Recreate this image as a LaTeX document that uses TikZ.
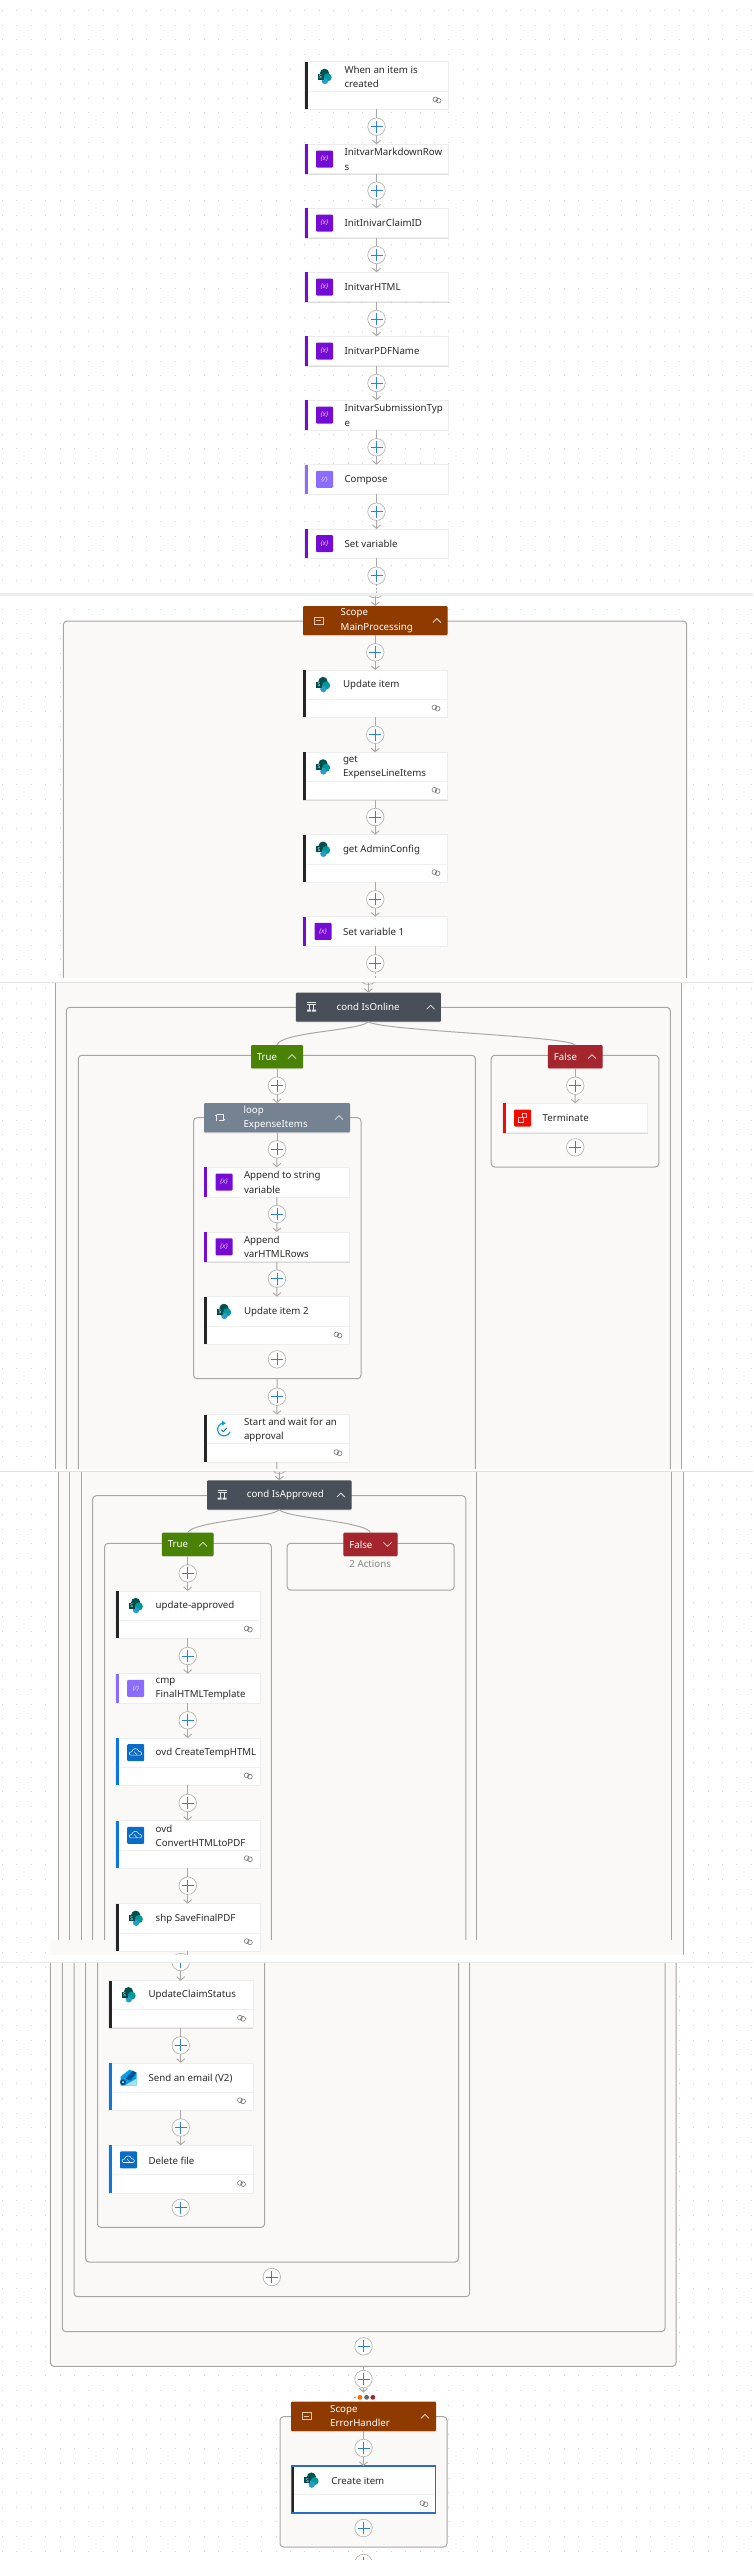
\documentclass[tikz,border=0pt]{standalone}
\usepackage{fontspec}
\setmainfont{Noto Sans}
\usetikzlibrary{arrows.meta,shadows}
\definecolor{txt}{HTML}{2B2A29}
\definecolor{wallc}{HTML}{A8A6A4}
\definecolor{canvasc}{HTML}{FAF9F8}
\definecolor{connc}{HTML}{ABA9A7}
\definecolor{plusb}{HTML}{2D7FF0}
\definecolor{varc}{HTML}{770BD6}
\definecolor{compc}{HTML}{8C6CFF}
\definecolor{darkbar}{HTML}{252525}
\definecolor{bluebar}{HTML}{0A78DC}
\definecolor{redbar}{HTML}{F00C00}
\definecolor{scopec}{HTML}{8F3B00}
\definecolor{condc}{HTML}{484F58}
\definecolor{loopc}{HTML}{748291}
\definecolor{truec}{HTML}{498205}
\definecolor{falsec}{HTML}{A4262C}
\definecolor{selc}{HTML}{2B6CC4}
\tikzset{
  cardbox/.style={rectangle,draw=black!7,line width=.5pt,fill=white,inner sep=0pt,outer sep=0pt,
    drop shadow={opacity=.25,shadow xshift=.3pt,shadow yshift=-1.1pt}},
  headbox/.style={rectangle,rounded corners=1pt,inner sep=0pt,outer sep=0pt,
    drop shadow={opacity=.22,shadow xshift=0pt,shadow yshift=-1pt}},
  cardtext/.style={anchor=west,align=left,inner sep=0pt,text=txt,font=\fontsize{9.7}{14.3}\selectfont},
  headtext/.style={anchor=west,align=left,inner sep=0pt,text=white,font=\fontsize{9.7}{14.3}\selectfont},
  plusn/.style={circle,draw=connc!85,line width=.7pt,fill=white,minimum size=17.5pt,inner sep=0pt,outer sep=0pt,
    path picture={\draw[plusb,line width=1pt]
      ([xshift=-6pt]path picture bounding box.center)--([xshift=6pt]path picture bounding box.center)
      ([yshift=-6pt]path picture bounding box.center)--([yshift=6pt]path picture bounding box.center);}},
  conn/.style={draw=connc,line width=1pt},
  arrowc/.style={draw=connc,line width=1pt,-{Straight Barb[length=3.5pt,width=8pt,line width=.9pt]}},
  wall/.style={draw=wallc,line width=1pt,rounded corners=3.5pt},
  wallbox/.style={rectangle,draw=wallc,line width=1pt,rounded corners=3.5pt,inner sep=0pt,outer sep=0pt},
  divline/.style={draw=black!6,line width=.6pt},
  icontext/.style={inner sep=0pt,text=white},
}
% icons
\newcommand{\iconsp}[3]{\begin{scope}[shift={({#1},{#2})}]
  \fill[black!60!teal!85!cyan] (0,-3.2) circle (4.6);
  \fill[teal!80!cyan] (3.2,0.8) circle (4);
  \fill[cyan!60!teal] (0.4,4.4) circle (3.2);
  \fill[black!40!teal] (-7,-3) rectangle (-1,3);
  \node[icontext,font=\fontsize{5}{5}\selectfont] (#3) at (-4,0) {S};
\end{scope}}
\newcommand{\iconvar}[3]{\begin{scope}[shift={({#1},{#2})}]
  \fill[varc,rounded corners=1pt] (-8.5,-8.5) rectangle (8.5,8.5);
  \node[icontext,text=white!85!varc,font=\fontsize{6.5}{6.5}\itshape] (#3) at (0,0) {\{x\}};
\end{scope}}
\newcommand{\iconcomp}[3]{\begin{scope}[shift={({#1},{#2})}]
  \fill[compc,rounded corners=1pt] (-8.5,-8.5) rectangle (8.5,8.5);
  \node[icontext,text=white!80!compc,font=\fontsize{6}{6}\itshape] (#3) at (0,0) {\{/\}};
\end{scope}}
\newcommand{\iconovd}[3]{\begin{scope}[shift={({#1},{#2})}]
  \fill[bluebar!90!black,rounded corners=1pt] (-8.5,-8.5) rectangle (8.5,8.5);
  \draw[white!85!bluebar,line width=.6pt] (-5.5,2.5) .. controls (-7,2.5) and (-7,-1) .. (-4,-1) .. controls (-3,-5) and (2,-5) .. (3,-1.5) .. controls (6.5,-1.5) and (6.5,2.5) .. (4.5,2.5) -- cycle;
  \draw[white!85!bluebar,line width=.5pt] (-1.5,-1) -- (1.5,2.5);
\end{scope}}
\newcommand{\iconterm}[3]{\begin{scope}[shift={({#1},{#2})}]
  \fill[redbar,rounded corners=1pt] (-8.5,-8.5) rectangle (8.5,8.5);
  \draw[white!80!red,line width=.6pt] (-4,-1) rectangle (1,4.5);
  \draw[white!80!red,line width=.6pt] (0,-4.5) rectangle (3.5,-0.5);
\end{scope}}
\newcommand{\iconappr}[3]{\begin{scope}[shift={({#1},{#2})}]
  \draw[bluebar!75!cyan,line width=1.1pt] (-1,-6.2) arc (-100:-340:6.5);
  \fill[bluebar!75!cyan] (-2,-8.5) -- (1.8,-6) -- (-2,-3.6) -- cycle;
  \draw[teal,line width=.9pt] (-2.6,0.6) -- (-0.6,2.4) -- (2.8,-1.4);
\end{scope}}
\newcommand{\iconmail}[3]{\begin{scope}[shift={({#1},{#2})}]
  \fill[bluebar!70!cyan] (-8,-1) -- (1,-8) -- (8,-5) -- (8,8) -- (-8,8) -- cycle;
  \fill[bluebar!70!black] (-3,1) -- (4,-7) -- (8,-5) -- (2,3) -- cycle;
  \fill[cyan!35!white] (-4,8) -- (8,8) -- (8,1) -- cycle;
  \fill[bluebar!60!black] (-5.5,4.5) circle (3);
  \fill[white] (-5.5,4.5) circle (1);
\end{scope}}
\newcommand{\iconscope}[3]{\begin{scope}[shift={({#1},{#2})}]
  \draw[white!70!scopec,line width=.7pt] (-4.5,-3.5) rectangle (4.5,3.5);
  \draw[white!70!scopec,line width=.7pt] (-2.5,0) -- (2.5,0);
\end{scope}}
\newcommand{\iconcond}[3]{\begin{scope}[shift={({#1},{#2})}]
  \draw[white!85!condc,line width=.9pt] (-4.5,-4.5) -- (4.5,-4.5) (-4.5,-3) -- (4.5,-3) (-2,-3) -- (-2,3) (2,-3) -- (2,3);
  \fill[white!85!condc] (-4.5,2.5) rectangle (-0.5,4.5) (0.5,2.5) rectangle (4.5,4.5);
\end{scope}}
\newcommand{\iconloop}[3]{\begin{scope}[shift={({#1},{#2})}]
  \draw[white!85!loopc,line width=.7pt] (-3.5,-3) -- (-3.5,3) (-3.5,-3) -- (3.5,-3) -- (3.5,3) -- (-1,3);
  \draw[white!85!loopc,line width=.7pt] (-5,-1.5) -- (-3.5,-3) (3.5,3) -- (5,1.5);
\end{scope}}
\newcommand{\linkicon}[2]{\draw[black!55,line width=.55pt] ({#1-1.6},{#2-.6}) circle (2.4) ({#1+1.6},{#2+.6}) circle (2.4);}
% name x1 x2 y1 y2 div bar icon text
\newcommand{\cardD}[9]{%
  \node[cardbox,minimum width={(#3-#2)*1pt},minimum height={(#5-#4)*1pt}] (#1) at ({(#2+#3)/2},{(#4+#5)/2}) {};
  \fill[#7] (#1.north west) rectangle ([xshift=3pt]#1.south west);
  \draw[divline] ({#2+3},#6) -- (#3,#6);
  #8{#2+20}{(#4+#6)/2}{#1-i}
  \node[cardtext] (#1-t) at ({#2+39.8},{(#4+#6)/2+.5}) {#9};
  \linkicon{#3-11.5}{#5-9.3}}
% name x1 x2 y1 y2 bar icon text
\newcommand{\cardS}[8]{%
  \node[cardbox,minimum width={(#3-#2)*1pt},minimum height={(#5-#4)*1pt}] (#1) at ({(#2+#3)/2},{(#4+#5)/2}) {};
  \fill[#6] (#1.north west) rectangle ([xshift=3pt]#1.south west);
  #7{#2+20}{(#4+#5)/2}{#1-i}
  \node[cardtext] (#1-t) at ({#2+39.8},{(#4+#5)/2+.3}) {#8};}
% name x1 x2 y1 y2 colour text-offset text
\newcommand{\headn}[8]{%
  \node[headbox,fill=#6,minimum width={(#3-#2)*1pt},minimum height={(#5-#4)*1pt}] (#1) at ({(#2+#3)/2},{(#4+#5)/2}) {};
  \node[headtext] (#1-t) at ({#2+#7},{(#4+#5)/2}) {#8};}
\newcommand{\chevU}[2]{\draw[white!90!black,line width=.8pt] ({#1-4},{#2+2}) -- (#1,{#2-2}) -- ({#1+4},{#2+2});}
\newcommand{\chevD}[2]{\draw[white!90!black,line width=.8pt] ({#1-4},{#2-2}) -- (#1,{#2+2}) -- ({#1+4},{#2-2});}
\newcommand{\plusat}[3]{\node[plusn] (#1) at (#2,#3) {};}
\newcommand{\seamarc}[2]{\draw[connc,line width=.7pt] ({#1-6},#2) .. controls ({#1-3},{#2+2.5}) and ({#1+3},{#2+2.5}) .. ({#1+6},#2);}
\begin{document}
\begin{tikzpicture}[x=1pt,y=-1pt]
\path[use as bounding box,fill=white] (0,0) rectangle (753,2560);
% canvas dots
\foreach \k in {0,...,175}
  \draw[black!18,line width=1pt,dash pattern=on 1pt off 13.4pt] (2,{10.7+14.6*\k}) -- (753,{10.7+14.6*\k});
% container fills and walls, piece by piece between the stitched seams
\fill[canvasc,rounded corners=3.5pt] (63.4,621) rectangle (686.7,990);
\draw[wall] (63.4,978) -- (63.4,621) -- (686.7,621) -- (686.7,978);
\fill[canvasc] (55.2,982) rectangle (681.8,1470);
\draw[wall,rounded corners=0pt] (55.2,982) -- (55.2,1470) (681.8,982) -- (681.8,1470);
\draw[wall] (66.3,1470) -- (66.3,1007.3) -- (670.3,1007.3) -- (670.3,1470);
\draw[wall] (78.3,1470) -- (78.3,1055.3) -- (475.4,1055.3) -- (475.4,1470);
\node[wallbox,minimum width=167.6pt,minimum height=111.7pt] (fbox) at (575,1111.15) {};
\node[wallbox,minimum width=167.5pt,minimum height=261pt] (loopbox) at (277.25,1248.2) {};
\fill[canvasc] (58,1471) rectangle (683,1955);
\draw[wall,rounded corners=0pt] (58,1471) -- (58,1955) (683,1471) -- (683,1955) (69.6,1471) -- (69.6,1955) (671,1471) -- (671,1955) (81,1471) -- (81,1955) (476.4,1471) -- (476.4,1955);
\draw[wall] (92.7,1955) -- (92.7,1495.7) -- (465.8,1495.7) -- (465.8,1955);
\draw[wall] (104.7,1955) -- (104.7,1543.3) -- (271.3,1543.3) -- (271.3,1955);
\node[wallbox,minimum width=167.1pt,minimum height=46.7pt] (f2box) at (370.65,1566.65) {};
\fill[canvasc,rounded corners=3.5pt] (50.4,1940) rectangle (676,2366.3);
\draw[wall] (50.4,1962) -- (50.4,2366.3) -- (676,2366.3) -- (676,1962);
\draw[wall] (62.4,1962) -- (62.4,2331.7) -- (665,2331.7) -- (665,1962);
\draw[wall] (74,1962) -- (74,2296.7) -- (469.6,2296.7) -- (469.6,1962);
\draw[wall] (85.5,1962) -- (85.5,2262) -- (458.6,2262) -- (458.6,1962);
\draw[wall] (97.5,1962) -- (97.5,2227.4) -- (264.6,2227.4) -- (264.6,1962);
\node[wallbox,fill=canvasc,minimum width=167pt,minimum height=130.4pt] (ehbox) at (363.5,2481.8) {};
% first column
\cardD{c1}{304.5}{448.5}{61.7}{109.3}{91.3}{darkbar}{\iconsp}{When an item is\\created}
\cardS{c2}{304.5}{448.5}{144.3}{173.7}{varc}{\iconvar}{InitvarMarkdownRow\\s}
\cardS{c3}{304.5}{448.5}{208.3}{237.7}{varc}{\iconvar}{InitInivarClaimID}
\cardS{c4}{304.5}{448.5}{272.3}{301.7}{varc}{\iconvar}{InitvarHTML}
\cardS{c5}{304.5}{448.5}{336.3}{365.7}{varc}{\iconvar}{InitvarPDFName}
\cardS{c6}{304.5}{448.5}{400.3}{430}{varc}{\iconvar}{InitvarSubmissionTyp\\e}
\cardS{c7}{304.5}{448.5}{464.7}{494}{compc}{\iconcomp}{Compose}
\cardS{c8}{304.5}{448.5}{529}{558.3}{varc}{\iconvar}{Set variable}
\plusat{p1}{376.5}{126.7}\plusat{p2}{376.5}{190.7}\plusat{p3}{376.5}{255}\plusat{p4}{376.5}{319}
\plusat{p5}{376.5}{383}\plusat{p6}{376.5}{447.3}\plusat{p7}{376.5}{511.7}\plusat{p8}{376.5}{575.7}
\coordinate (s1a) at (376.5,593);
\coordinate (s1b) at (375.25,596);
% scope main
\headn{sm}{303}{447.5}{606}{635}{scopec}{37.5}{Scope\\MainProcessing}
\iconscope{318.7}{620.5}{sm-i}\chevU{436.8}{620.5}
\cardD{u1}{303}{447.5}{670}{717.3}{699.3}{darkbar}{\iconsp}{Update item}
\cardD{u2}{303}{447.5}{752.3}{799.7}{781.7}{darkbar}{\iconsp}{get\\ExpenseLineItems}
\cardD{u3}{303}{447.5}{834.7}{882}{864}{darkbar}{\iconsp}{get AdminConfig}
\cardS{u4}{303}{447.5}{916.7}{946}{varc}{\iconvar}{Set variable 1}
\plusat{pm0}{375.25}{652.3}\plusat{pm1}{375.25}{734.7}\plusat{pm2}{375.25}{817}\plusat{pm3}{375.25}{899.3}\plusat{pm4}{375.25}{963.3}
\coordinate (s2a) at (375.25,978);
\coordinate (s2b) at (368.3,982);
% cond IsOnline
\headn{co}{295.8}{440.8}{992.7}{1021.7}{condc}{40.7}{cond IsOnline}
\iconcond{311.5}{1007.2}{co-i}\chevU{430.6}{1007.2}
\headn{tr}{251}{303}{1045}{1068.3}{truec}{5.6}{True}\chevU{292}{1056.6}
\headn{fa}{547.9}{602.6}{1045}{1068.3}{falsec}{5.8}{False}\chevU{592}{1056.6}
\plusat{pt0}{277}{1085.7}
\headn{lp}{204}{350}{1103}{1132.3}{loopc}{39.4}{loop\\ExpenseItems}
\iconloop{220}{1117.6}{lp-i}\chevU{339}{1117.6}
\plusat{pl0}{277}{1149.3}
\cardS{a1}{204}{349.5}{1167.3}{1197}{varc}{\iconvar}{Append to string\\variable}
\plusat{pl1}{277}{1214}
\cardS{a2}{204}{349.5}{1232}{1261.7}{varc}{\iconvar}{Append\\varHTMLRows}
\plusat{pl2}{277}{1278.7}
\cardD{a3}{204}{349.5}{1296.7}{1344.3}{1326.3}{darkbar}{\iconsp}{Update item 2}
\plusat{pl3}{277}{1359.3}
\plusat{pt1}{277}{1396.7}
\cardD{st}{204}{349.5}{1414.7}{1462}{1443.7}{darkbar}{\iconappr}{Start and wait for an\\approval}
\coordinate (s3a) at (277,1469);
\coordinate (s3b) at (279.3,1471);
\plusat{pf0}{575.25}{1085.7}
\cardS{te}{502.7}{647.5}{1103.3}{1132.7}{redbar}{\iconterm}{Terminate}
\plusat{pf1}{575.25}{1147.3}
% cond IsApproved
\headn{ca}{207}{351.5}{1480.3}{1509.7}{condc}{39.7}{cond IsApproved}
\iconcond{222}{1495}{ca-i}\chevU{340.8}{1495}
\headn{tq}{161.8}{213.7}{1532.7}{1556}{truec}{5.8}{True}\chevU{203}{1544.3}
\headn{fq}{343.3}{397.6}{1532.7}{1556}{falsec}{5.8}{False}\chevD{387.5}{1544.3}
\node[cardtext,text=black!48,anchor=center] (fq-n) at (370.2,1564) {2 Actions};
\plusat{pa0}{187.75}{1573.3}
\cardD{b1}{115.7}{259.8}{1591}{1638.3}{1620.3}{darkbar}{\iconsp}{update-approved}
\plusat{pa1}{187.75}{1656}
\cardS{b2}{115.7}{259.8}{1673.7}{1703}{compc}{\iconcomp}{cmp\\FinalHTMLTemplate}
\plusat{pa2}{187.75}{1720.3}
\cardD{b3}{115.7}{259.8}{1738}{1785.3}{1767.3}{bluebar}{\iconovd}{ovd CreateTempHTML}
\plusat{pa3}{187.75}{1803}
\cardD{b4}{115.7}{259.8}{1820.7}{1868}{1850}{bluebar}{\iconovd}{ovd\\ConvertHTMLtoPDF}
\plusat{pa4}{187.75}{1885.7}
\cardD{b5}{115.7}{259.8}{1903.7}{1951}{1933}{darkbar}{\iconsp}{shp SaveFinalPDF}
\coordinate (s4a) at (187.75,1956);
\plusat{pb0}{180.75}{1962}
\cardD{d1}{108.5}{253}{1980.7}{2027.5}{2009}{darkbar}{\iconsp}{UpdateClaimStatus}
\plusat{pb1}{180.75}{2045.3}
\cardD{d2}{108.5}{253}{2062.8}{2110}{2092.5}{bluebar}{\iconmail}{Send an email (V2)}
\plusat{pb2}{180.75}{2127.5}
\cardD{d3}{108.5}{253}{2145.3}{2192.8}{2174.6}{bluebar}{\iconovd}{Delete file}
\plusat{pb3}{180.75}{2207.8}
\plusat{pi0}{271.8}{2277}
\plusat{pc0}{363.5}{2346.3}
\coordinate (mainb) at (363.5,2366.3);
\plusat{pe0}{363.5}{2379}
\coordinate (ehin) at (363.5,2392.5);
% error handler
\fill[black!35] (354.3,2396.8) rectangle (355.6,2397.8);
\fill[orange!85!red] (360,2397.3) circle (2.4);
\fill[black!60] (366.6,2397.3) circle (2.4);
\fill[falsec] (372.8,2397.3) circle (2.4);
\headn{eh}{291}{436}{2401.6}{2431}{scopec}{39}{Scope\\ErrorHandler}
\iconscope{306.8}{2416.3}{eh-i}\chevU{425}{2416.3}
\plusat{pe1}{363.5}{2448}
\cardD{ci}{291.4}{435.5}{2466}{2513}{2494.5}{darkbar}{\iconsp}{Create item}
\draw[selc,line width=1.3pt] (ci.north west) rectangle (ci.south east);
\plusat{pe2}{363.5}{2528}
\plusat{pe3}{363.5}{2563}
% connectors
\draw[conn] (c1) -- (p1); \draw[arrowc] (p1) -- (c2);
\draw[conn] (c2) -- (p2); \draw[arrowc] (p2) -- (c3);
\draw[conn] (c3) -- (p3); \draw[arrowc] (p3) -- (c4);
\draw[conn] (c4) -- (p4); \draw[arrowc] (p4) -- (c5);
\draw[conn] (c5) -- (p5); \draw[arrowc] (p5) -- (c6);
\draw[conn] (c6) -- (p6); \draw[arrowc] (p6) -- (c7);
\draw[conn] (c7) -- (p7); \draw[arrowc] (p7) -- (c8);
\draw[conn] (c8) -- (p8); \draw[conn,dash pattern=on 2pt off 1.5pt] (p8) -- (s1a);
\draw[arrowc] (s1b) -- (sm);
\draw[conn] (sm) -- (pm0); \draw[arrowc] (pm0) -- (u1);
\draw[conn] (u1) -- (pm1); \draw[arrowc] (pm1) -- (u2);
\draw[conn] (u2) -- (pm2); \draw[arrowc] (pm2) -- (u3);
\draw[conn] (u3) -- (pm3); \draw[arrowc] (pm3) -- (u4);
\draw[conn] (u4) -- (pm4); \draw[conn,dash pattern=on 2pt off 1.5pt] (pm4) -- (s2a);
\draw[arrowc] (s2b) -- (co);
\draw[conn] (co.south) .. controls ([shift={(-8,9)}]co.south) and ([shift={(3,-13)}]tr.north) .. (tr.north);
\draw[conn] (co.south) .. controls ([shift={(12,9)}]co.south) and ([shift={(-8,-9)}]fa.north) .. (fa.north);
\draw[conn] (tr) -- (pt0); \draw[arrowc] (pt0) -- (lp);
\draw[conn] (lp) -- (pl0); \draw[arrowc] (pl0) -- (a1);
\draw[conn] (a1) -- (pl1); \draw[arrowc] (pl1) -- (a2);
\draw[conn] (a2) -- (pl2); \draw[arrowc] (pl2) -- (a3);
\draw[conn] (loopbox.south) -- (pt1); \draw[arrowc] (pt1) -- (st);
\draw[conn] (st) -- (s3a);
\draw[conn] (fa) -- (pf0); \draw[arrowc] (pf0) -- (te);
\draw[arrowc] (s3b) -- (ca);
\draw[conn] (ca.south) .. controls ([shift={(-6,8)}]ca.south) and ([shift={(3,-11)}]tq.north) .. (tq.north);
\draw[conn] (ca.south) .. controls ([shift={(6,8)}]ca.south) and ([shift={(-3,-11)}]fq.north) .. (fq.north);
\draw[conn] (tq) -- (pa0); \draw[arrowc] (pa0) -- (b1);
\draw[conn] (b1) -- (pa1); \draw[arrowc] (pa1) -- (b2);
\draw[conn] (b2) -- (pa2); \draw[arrowc] (pa2) -- (b3);
\draw[conn] (b3) -- (pa3); \draw[arrowc] (pa3) -- (b4);
\draw[conn] (b4) -- (pa4); \draw[arrowc] (pa4) -- (b5);
\draw[conn] (b5) -- (s4a);
\draw[arrowc] (pb0) -- (d1);
\draw[conn] (d1) -- (pb1); \draw[arrowc] (pb1) -- (d2);
\draw[conn] (d2) -- (pb2); \draw[arrowc] (pb2) -- (d3);
\draw[conn] (mainb) -- (pe0); \draw[arrowc] (pe0) -- (ehin);
\draw[conn] (eh) -- (pe1); \draw[arrowc] (pe1) -- (ci);
% stitched seams
\fill[black!7] (0,593.3) rectangle (753,596);
\seamarc{375.25}{596}
\fill[white] (0,978) rectangle (753,981.5);
\fill[black!11] (0,981.5) rectangle (753,982.5);
\seamarc{368.3}{982.5}
\fill[white] (0,1469) rectangle (753,1470.5);
\fill[black!12] (0,1470.5) rectangle (753,1471.5);
\seamarc{279.3}{1471.5}
\fill[white] (0,1954.5) rectangle (753,1962);
\fill[black!8] (0,1962) rectangle (753,1963);
\end{tikzpicture}
\end{document}
